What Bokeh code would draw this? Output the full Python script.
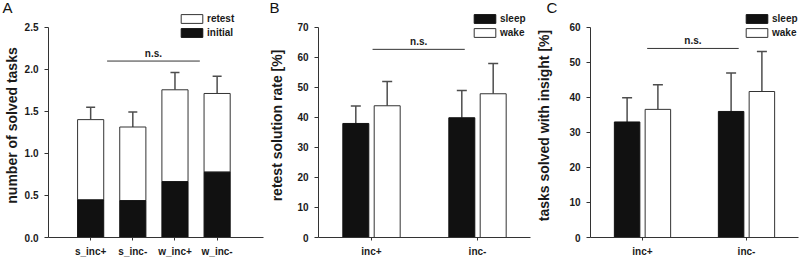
from bokeh.plotting import figure
from bokeh.layouts import row
from bokeh.models import (Range1d, Whisker, ColumnDataSource, Legend, LegendItem,
                          FixedTicker, TeeHead, NumeralTickFormatter)
from bokeh.core.properties import value
from bokeh.embed import file_html
from bokeh.resources import INLINE

# ---------------- data ----------------
# Panel A: number of solved tasks (stacked: initial + retest)
a_groups = ["s_inc+", "s_inc-", "w_inc+", "w_inc-"]
a_initial = [0.447, 0.438, 0.664, 0.778]
a_initial_err_top = [0.557, 0.577, 0.834, 0.924]
a_total = [1.403, 1.315, 1.758, 1.714]
a_total_err_top = [1.549, 1.493, 1.963, 1.920]
a_ns = [1.39, 3.59, 2.10]          # x0, x1, y of the n.s. bracket

# Panel B: retest solution rate [%]
b_groups = ["inc+", "inc-"]
b_sleep = [38.0, 39.9]
b_sleep_err_top = [43.8, 49.0]
b_wake = [43.9, 47.9]
b_wake_err_top = [52.0, 58.0]
b_ns = [1.01, 1.88, 62.7]

# Panel C: tasks solved with insight [%]
c_groups = ["inc+", "inc-"]
c_sleep = [33.0, 36.0]
c_sleep_err_top = [39.9, 47.0]
c_wake = [36.6, 41.7]
c_wake_err_top = [43.6, 53.1]
c_ns = [1.045, 1.925, 54.0]

FONT = "Liberation Sans"
AX = "#333333"
ERR = "#4d4d4d"
DARK = "#111111"
H = 259
TOP = 13
BOTTOM = 21
FRAME_H = H - TOP - BOTTOM
AXIS_PX = 211.0   # pixel height of the drawn y axis


def base_fig(width, left, right, x_range, y_max, yticks, ylabel, lab_standoff, letter,
             letter_px):
    y_end = y_max * FRAME_H / AXIS_PX
    p = figure(width=width, height=H, output_backend="svg", toolbar_location=None,
               x_range=Range1d(*x_range), y_range=Range1d(0, y_end),
               min_border_left=left, min_border_right=right,
               min_border_top=TOP, min_border_bottom=BOTTOM,
               title=letter)
    p.title.align = "left"
    p.title.vertical_align = "middle"
    p.title.offset = letter_px - left
    p.title.standoff = -7
    p.title.text_font = FONT
    p.title.text_font_style = "normal"
    p.title.text_font_size = "15px"
    p.title.text_color = "#111111"
    p.outline_line_color = None
    p.grid.visible = False
    p.background_fill_color = "white"
    p.border_fill_color = "white"
    for ax in (p.xaxis[0], p.yaxis[0]):
        ax.axis_line_color = AX
        ax.axis_line_width = 1
        ax.major_tick_line_color = AX
        ax.minor_tick_line_color = None
        ax.major_tick_in = 0
        ax.major_label_text_font = FONT
        ax.major_label_text_font_style = "bold"
        ax.major_label_text_font_size = "10px"
        ax.major_label_text_color = "#1a1a1a"
    yax = p.yaxis[0]
    yax.bounds = (0, y_max)
    yax.ticker = FixedTicker(ticks=yticks)
    yax.major_tick_out = 4
    yax.major_label_standoff = 6
    yax.axis_label = ylabel
    yax.axis_label_text_font = FONT
    yax.axis_label_text_font_style = "bold"
    yax.axis_label_text_font_size = "14px"
    yax.axis_label_text_color = "#1a1a1a"
    yax.axis_label_standoff = lab_standoff
    xax = p.xaxis[0]
    xax.major_tick_out = 3
    xax.major_label_standoff = 5
    return p


def add_ns(p, ns):
    x0, x1, y = ns
    p.segment(x0=[x0], y0=[y], x1=[x1], y1=[y], line_color=AX, line_width=1)
    p.text(x=[(x0 + x1) / 2], y=[y], text=["n.s."], text_align="center",
           text_baseline="bottom", y_offset=-2, text_font=value(FONT),
           text_font_style="bold", text_font_size="10px", text_color="#1a1a1a")


def add_whiskers(p, xs, lows, highs, cap):
    src = ColumnDataSource(dict(x=xs, lo=lows, hi=highs))
    w = Whisker(source=src, base="x", lower="lo", upper="hi", dimension="height",
                line_color=ERR, line_width=1.5, lower_head=None,
                upper_head=TeeHead(size=cap, line_color=ERR, line_width=1.5))
    p.add_layout(w)


def make_legend(p, items, loc):
    lg = Legend(items=[LegendItem(label=l, renderers=[r]) for l, r in items],
                location=loc, orientation="vertical", glyph_width=27, glyph_height=11,
                label_height=11, spacing=3, padding=0, margin=0, border_line_color=None,
                background_fill_alpha=0, label_text_font=FONT, label_text_font_style="bold",
                label_text_font_size="10px", label_text_color="#1a1a1a", label_standoff=2)
    p.add_layout(lg)


# ---------------- Panel A ----------------
ax_pos = [i + 1 for i in range(len(a_groups))]
pA = base_fig(266, 48, 3, (0, 5.1), 2.5, [0, 0.5, 1.0, 1.5, 2.0, 2.5],
              "number of solved tasks", 2, "A", 2)
pA.yaxis[0].formatter = NumeralTickFormatter(format="0.0")
pA.xaxis[0].ticker = FixedTicker(ticks=ax_pos)
pA.xaxis[0].major_label_overrides = {x: g for x, g in zip(ax_pos, a_groups)}
r_ret = pA.vbar(x=ax_pos, bottom=a_initial, top=a_total, width=0.62,
                fill_color="white", line_color=AX, line_width=1)
r_ini = pA.vbar(x=ax_pos, bottom=0, top=a_initial, width=0.62,
                fill_color=DARK, line_color=DARK, line_width=1)
add_whiskers(pA, ax_pos, a_total, a_total_err_top, 9)
add_whiskers(pA, ax_pos, a_initial, a_initial_err_top, 9)
add_ns(pA, a_ns)
make_legend(pA, [("retest", r_ret), ("initial", r_ini)], (130, 199))


# ---------------- Panels B & C ----------------
def grouped(width, left, right, groups, sleep, sleep_top, wake, wake_top, ymax, yticks,
            ylabel, lab_standoff, ns, letter, letter_px, leg_loc):
    pos = [i + 1 for i in range(len(groups))]
    p = base_fig(width, left, right, (0.5, 2.5), ymax, yticks, ylabel, lab_standoff,
                 letter, letter_px)
    p.xaxis[0].ticker = FixedTicker(ticks=pos)
    p.xaxis[0].major_label_overrides = {x: g for x, g in zip(pos, groups)}
    xs_s = [x - 0.148 for x in pos]
    xs_w = [x + 0.148 for x in pos]
    r_s = p.vbar(x=xs_s, bottom=0, top=sleep, width=0.245, fill_color=DARK,
                 line_color=DARK, line_width=1)
    r_w = p.vbar(x=xs_w, bottom=0, top=wake, width=0.245, fill_color="white",
                 line_color=AX, line_width=1)
    add_whiskers(p, xs_s, sleep, sleep_top, 10)
    add_whiskers(p, xs_w, wake, wake_top, 10)
    add_ns(p, ns)
    make_legend(p, [("sleep", r_s), ("wake", r_w)], leg_loc)
    return p


pB = grouped(267, 50, 3, b_groups, b_sleep, b_sleep_err_top, b_wake, b_wake_err_top,
             70, [0, 10, 20, 30, 40, 50, 60, 70], "retest solution rate [%]", 9, b_ns,
             "B", 1, (153, 199))
pC = grouped(267, 54, 2, c_groups, c_sleep, c_sleep_err_top, c_wake, c_wake_err_top,
             60, [0, 10, 20, 30, 40, 50, 60], "tasks solved with insight [%]", 14, c_ns,
             "C", 10, (153, 199))

layout = row(pA, pB, pC)
open("out.html", "w").write(file_html(layout, INLINE))
